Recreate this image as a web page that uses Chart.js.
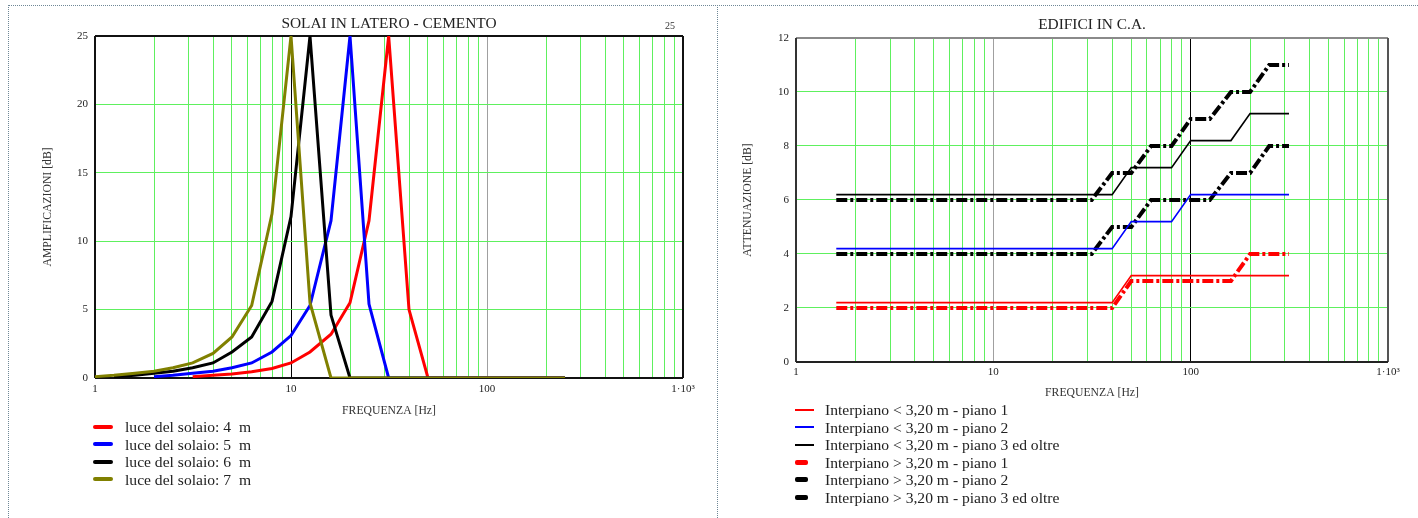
<!DOCTYPE html>
<html lang="it">
<head>
    <meta charset="UTF-8">
    <title>Solai / Edifici</title>
    <script src="https://cdn.jsdelivr.net/npm/chart.js"></script>
    <style>
        body { margin: 0; background: #fff; font-family: "Liberation Serif", serif; }
        .wrap { position: relative; width: 1418px; height: 518px; overflow: hidden; }
        canvas { position: absolute; top: 0; }
        .dot-h { position: absolute; left: 8px; right: 0; top: 5px; border-top: 1px dotted #6f8796; }
        .dot-v { position: absolute; top: 5px; bottom: 0; border-left: 1px dotted #6f8796; }
        .legend { position: absolute; font-size: 15.6px; color: #222; }
        .legend .row { position: relative; height: 17.5px; line-height: 17.5px; white-space: pre; }
        .legend .bar { position: absolute; }
        .stray { position: absolute; left: 665px; top: 20px; font-size: 10px; color: #333; }
    </style>
</head>
<body>
<div class="wrap">
    <div class="dot-h"></div>
    <div class="dot-v" style="left:8px"></div>
    <div class="dot-v" style="left:717px"></div>
    <canvas id="solai" width="715" height="420" style="left:0"></canvas>
    <canvas id="edifici" width="700" height="405" style="left:718px"></canvas>
    <span class="stray">25</span>
    <div id="legendSolai" class="legend" style="left:93px; top:418px"></div>
    <div id="legendEdifici" class="legend" style="left:795px; top:401px"></div>
</div>

<script>
    // --- SOLAI IN LATERO - CEMENTO (frequenze in terzi d'ottava) ---
    const freqSolai = [1, 1.25, 1.6, 2, 2.5, 3.15, 4, 5, 6.3, 8, 10, 12.5, 16, 20, 25, 31.5, 40, 50, 63, 80, 100, 125, 160, 200, 250];
    const luce4 = [null, null, null, null, null, 0.1, 0.2, 0.3, 0.45, 0.7, 1.1, 1.9, 3.2, 5.5, 11.5, 25, 5, 0, 0, 0, 0, 0, 0, 0, 0];
    const luce5 = [null, null, null, 0.1, 0.2, 0.35, 0.5, 0.75, 1.1, 1.9, 3.1, 5.3, 11.5, 25, 5.4, 0, 0, 0, 0, 0, 0, 0, 0, 0, 0];
    const luce6 = [null, 0.1, 0.2, 0.35, 0.5, 0.75, 1.1, 1.9, 3.0, 5.6, 11.8, 25, 4.6, 0, 0, 0, 0, 0, 0, 0, 0, 0, 0, 0, 0];
    const luce7 = [0.1, 0.2, 0.35, 0.5, 0.75, 1.1, 1.8, 3.0, 5.3, 12, 25, 5.5, 0, 0, 0, 0, 0, 0, 0, 0, 0, 0, 0, 0, 0];
    const solaiLabels = ['luce del solaio: 4  m', 'luce del solaio: 5  m', 'luce del solaio: 6  m', 'luce del solaio: 7  m'];
    const solaiColors = ['#ff0000', '#0000ff', '#000000', '#808000'];
    const solaiTicksY = [0, 5, 10, 15, 20, 25];

    // --- EDIFICI IN C.A. ---
    const freqEdifici = [1.6, 31.5, 40, 50, 63, 80, 100, 125, 160, 200, 250, 315];
    const minore1 = [2.2, 2.2, 2.2, 3.2, 3.2, 3.2, 3.2, 3.2, 3.2, 3.2, 3.2, 3.2];
    const minore2 = [4.2, 4.2, 4.2, 5.2, 5.2, 5.2, 6.2, 6.2, 6.2, 6.2, 6.2, 6.2];
    const minore3 = [6.2, 6.2, 6.2, 7.2, 7.2, 7.2, 8.2, 8.2, 8.2, 9.2, 9.2, 9.2];
    const maggiore1 = [2, 2, 2, 3, 3, 3, 3, 3, 3, 4, 4, 4];
    const maggiore2 = [4, 4, 5, 5, 6, 6, 6, 6, 7, 7, 8, 8];
    const maggiore3 = [6, 6, 7, 7, 8, 8, 9, 9, 10, 10, 11, 11];
    const edificiLabels = [
        'Interpiano < 3,20 m - piano 1',
        'Interpiano < 3,20 m - piano 2',
        'Interpiano < 3,20 m - piano 3 ed oltre',
        'Interpiano > 3,20 m - piano 1',
        'Interpiano > 3,20 m - piano 2',
        'Interpiano > 3,20 m - piano 3 ed oltre'
    ];
    const edificiColors = ['#ff0000', '#0000ff', '#000000', '#ff0000', '#000000', '#000000'];
    const edificiTicksY = [0, 2, 4, 6, 8, 10, 12];

    const decadeTicks = [1, 10, 100, 1000];
    const green = '#5ef05e';
    const serif = '"Liberation Serif", "Times New Roman", serif';

    function points(xs, ys) {
        const out = [];
        xs.forEach((x, i) => { if (ys[i] !== null) out.push({ x: x, y: ys[i] }); });
        return out;
    }

    function logTicks() {
        const t = [];
        for (let d = 1; d < 1000; d *= 10) {
            for (let m = 1; m < 10; m++) t.push({ value: m * d });
        }
        t.push({ value: 1000 });
        return t;
    }

    function tickLabel(v) {
        if (v === 1000) return '1\u00b710\u00b3';
        return decadeTicks.includes(v) ? String(v) : '';
    }

    // cornice del grafico
    function framePlugin(colors) {
        return {
            id: 'frame',
            beforeDatasetsDraw(chart) {
                const a = chart.chartArea, c = chart.ctx;
                c.save();
                c.lineWidth = 2;
                const seg = (x1, y1, x2, y2, col) => { c.strokeStyle = col; c.beginPath(); c.moveTo(x1, y1); c.lineTo(x2, y2); c.stroke(); };
                seg(a.left, a.top, a.right, a.top, colors.top);
                seg(a.right, a.top, a.right, a.bottom, colors.right);
                seg(a.left, a.top, a.left, a.bottom, colors.left);
                seg(a.left, a.bottom, a.right, a.bottom, colors.bottom);
                c.restore();
            }
        };
    }

    function makeOptions(cfg) {
        return {
            responsive: false,
            animation: false,
            layout: { padding: { left: 0, right: cfg.padRight, top: 0, bottom: 0 } },
            plugins: {
                legend: { display: false },
                tooltip: { enabled: false },
                title: {
                    display: true,
                    text: cfg.title,
                    fullSize: false,
                    color: '#222',
                    font: { family: serif, size: 15.4, weight: 'normal' },
                    padding: cfg.titlePad
                }
            },
            scales: {
                x: {
                    type: 'logarithmic',
                    min: 1, max: 1000,
                    afterBuildTicks: s => { s.ticks = logTicks(); },
                    afterFit: s => { s.height = cfg.xHeight; },
                    ticks: {
                        autoSkip: false, maxRotation: 0, padding: cfg.xTickPad,
                        color: '#222', font: { family: serif, size: 11 },
                        callback: v => tickLabel(v)
                    },
                    grid: {
                        drawTicks: false, lineWidth: 1,
                        color: c => cfg.decadeColor[c.tick.value] || green
                    },
                    border: { display: false },
                    title: {
                        display: true, text: 'FREQUENZA [Hz]', color: '#333',
                        font: { family: serif, size: 11.7 },
                        padding: { top: 0, bottom: cfg.xTitlePad }
                    }
                },
                y: {
                    min: 0, max: cfg.yMax,
                    afterBuildTicks: s => { s.ticks = cfg.yTicks.map(v => ({ value: v })); },
                    afterFit: s => { s.width = cfg.yWidth; },
                    ticks: { padding: 7, color: '#222', font: { family: serif, size: 11 } },
                    grid: { drawTicks: false, color: green, lineWidth: 1 },
                    border: { display: false },
                    title: {
                        display: true, text: cfg.yTitle, color: '#333',
                        font: { family: serif, size: 11.7 },
                        padding: { top: cfg.yTitlePad, bottom: 0 }
                    }
                }
            }
        };
    }

    new Chart(document.getElementById('solai').getContext('2d'), {
        type: 'line',
        data: {
            datasets: [luce4, luce5, luce6, luce7].map((s, i) => ({
                label: solaiLabels[i],
                data: points(freqSolai, s),
                borderColor: solaiColors[i],
                borderWidth: 3,
                pointRadius: 0,
                tension: 0,
                fill: false,
                order: 3 - i
            }))
        },
        options: makeOptions({
            title: 'SOLAI IN LATERO - CEMENTO', titlePad: { top: 14.5, bottom: 3 },
            padRight: 32, xHeight: 42, yWidth: 95, xTickPad: 5, xTitlePad: 2, yTitlePad: 41,
            yMax: 25, yTicks: solaiTicksY, yTitle: 'AMPLIFICAZIONI [dB]',
            decadeColor: { 10: '#000000', 100: '#a0a0a0' }
        }),
        plugins: [framePlugin({ top: '#111', right: '#111', left: '#111', bottom: '#111' })]
    });

    const dashDot = [11, 3, 3, 3];
    new Chart(document.getElementById('edifici').getContext('2d'), {
        type: 'line',
        data: {
            datasets: [minore1, minore2, minore3, maggiore1, maggiore2, maggiore3].map((s, i) => ({
                label: edificiLabels[i],
                data: points(freqEdifici, s),
                borderColor: edificiColors[i],
                borderWidth: i < 3 ? 1.6 : 4,
                borderDash: i < 3 ? [] : dashDot,
                pointRadius: 0,
                tension: 0,
                fill: false
            }))
        },
        options: makeOptions({
            title: 'EDIFICI IN C.A.', titlePad: { top: 16, bottom: 3.5 },
            padRight: 30, xHeight: 43, yWidth: 78, xTickPad: 4, xTitlePad: 5, yTitlePad: 23,
            yMax: 12, yTicks: edificiTicksY, yTitle: 'ATTENUAZIONE [dB]',
            decadeColor: { 10: '#a0a0a0', 100: '#000000' }
        }),
        plugins: [framePlugin({ top: '#8a8a8a', right: '#555', left: '#333', bottom: '#222' })]
    });

    // legende
    function buildLegend(id, labels, colors, barStyle) {
        const box = document.getElementById(id);
        labels.forEach((txt, i) => {
            const row = document.createElement('div');
            row.className = 'row';
            const bar = document.createElement('div');
            bar.className = 'bar';
            const st = barStyle(i);
            bar.style.left = '0px';
            bar.style.width = st.w + 'px';
            bar.style.height = st.h + 'px';
            bar.style.top = (8.5 - st.h / 2) + 'px';
            bar.style.background = colors[i];
            bar.style.borderRadius = st.h > 3 ? '2px' : '0';
            const span = document.createElement('span');
            span.style.marginLeft = st.textX + 'px';
            span.textContent = txt;
            row.appendChild(bar);
            row.appendChild(span);
            box.appendChild(row);
        });
    }

    buildLegend('legendSolai', solaiLabels, solaiColors, () => ({ w: 20, h: 4, textX: 32 }));
    buildLegend('legendEdifici', edificiLabels, edificiColors, i => i < 3 ? { w: 19, h: 2, textX: 30 } : { w: 13, h: 5, textX: 30 });
</script>
</body>
</html>
